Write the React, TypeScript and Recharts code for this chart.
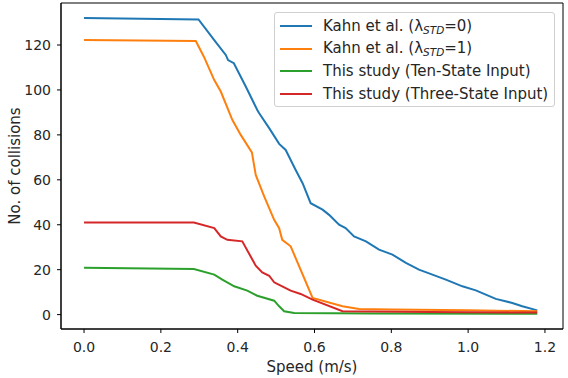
import { LineChart, Line, XAxis, YAxis, Legend, ReferenceArea, Label } from "recharts";

interface Pt {
  x: number;
  y: number;
}

const speedTicks = [0, 0.2, 0.4, 0.6, 0.8, 1.0, 1.2];
const collisionTicks = [0, 20, 40, 60, 80, 100, 120];

const kahnStd0: Pt[] = [
  { x: 0.0, y: 132 }, { x: 0.298, y: 131.4 }, { x: 0.339, y: 122.2 },
  { x: 0.369, y: 115.6 }, { x: 0.375, y: 113.3 }, { x: 0.39, y: 111.9 },
  { x: 0.421, y: 101.5 }, { x: 0.451, y: 91.1 }, { x: 0.456, y: 89.6 },
  { x: 0.482, y: 83 }, { x: 0.508, y: 76 }, { x: 0.525, y: 73.3 },
  { x: 0.551, y: 64.4 }, { x: 0.569, y: 58.5 }, { x: 0.59, y: 49.6 },
  { x: 0.621, y: 46.7 }, { x: 0.638, y: 44.4 }, { x: 0.664, y: 40 },
  { x: 0.681, y: 38.5 }, { x: 0.703, y: 34.8 }, { x: 0.734, y: 32.6 },
  { x: 0.768, y: 28.9 }, { x: 0.803, y: 26.7 }, { x: 0.838, y: 23 },
  { x: 0.872, y: 20 }, { x: 0.907, y: 17.8 }, { x: 0.942, y: 15.6 },
  { x: 0.985, y: 12.6 }, { x: 1.02, y: 10.8 }, { x: 1.046, y: 8.9 },
  { x: 1.072, y: 7.0 }, { x: 1.115, y: 5.2 }, { x: 1.141, y: 3.7 },
  { x: 1.18, y: 1.9 },
];

const kahnStd1: Pt[] = [
  { x: 0.0, y: 122.2 }, { x: 0.291, y: 121.8 }, { x: 0.312, y: 114.8 },
  { x: 0.339, y: 104.4 }, { x: 0.356, y: 99.3 }, { x: 0.386, y: 86.7 },
  { x: 0.408, y: 80 }, { x: 0.437, y: 72.2 }, { x: 0.447, y: 62.2 },
  { x: 0.469, y: 52.6 }, { x: 0.495, y: 42.2 }, { x: 0.508, y: 38.5 },
  { x: 0.516, y: 33.3 }, { x: 0.538, y: 30.4 }, { x: 0.595, y: 7.4 },
  { x: 0.673, y: 3.7 }, { x: 0.716, y: 2.5 }, { x: 0.8, y: 2.3 },
  { x: 1.0, y: 1.9 }, { x: 1.18, y: 1.5 },
];

const tenState: Pt[] = [
  { x: 0.0, y: 20.9 }, { x: 0.286, y: 20.3 }, { x: 0.339, y: 17.8 },
  { x: 0.36, y: 15.6 }, { x: 0.391, y: 12.6 }, { x: 0.425, y: 10.7 },
  { x: 0.451, y: 8.4 }, { x: 0.495, y: 6.2 }, { x: 0.508, y: 3.7 },
  { x: 0.521, y: 1.5 }, { x: 0.547, y: 0.7 }, { x: 0.75, y: 0.5 },
  { x: 1.18, y: 0.4 },
];

const threeState: Pt[] = [
  { x: 0.0, y: 41 }, { x: 0.286, y: 41 }, { x: 0.339, y: 38.5 },
  { x: 0.356, y: 34.8 }, { x: 0.373, y: 33.3 }, { x: 0.412, y: 32.6 },
  { x: 0.447, y: 21.8 }, { x: 0.464, y: 18.8 }, { x: 0.482, y: 17.3 },
  { x: 0.495, y: 14.4 }, { x: 0.512, y: 12.9 }, { x: 0.538, y: 10.7 },
  { x: 0.564, y: 9.2 }, { x: 0.595, y: 6.7 }, { x: 0.673, y: 1.5 },
  { x: 0.9, y: 1.2 }, { x: 1.18, y: 0.9 },
];

const FONT = "'DejaVu Sans', sans-serif";
const TEXT = "#262626";

const legendRows = [
  { color: "#1f77b4", main: "Kahn et al. (λ", sub: "STD", tail: "=0)" },
  { color: "#ff7f0e", main: "Kahn et al. (λ", sub: "STD", tail: "=1)" },
  { color: "#2ca02c", main: "This study (Ten-State Input)" },
  { color: "#d62728", main: "This study (Three-State Input)" },
];

function LegendBox() {
  return (
    <div
      style={{
        width: 281,
        height: 95,
        boxSizing: "border-box",
        border: "1px solid #d0d0d0",
        borderRadius: 3,
        background: "rgba(255,255,255,0.8)",
        fontFamily: FONT,
        fontSize: 15,
        lineHeight: "18px",
        color: TEXT,
        paddingTop: 2,
      }}
    >
      {legendRows.map((r) => (
        <div key={r.color} style={{ display: "flex", alignItems: "center", height: 22.6 }}>
          <span
            style={{
              display: "inline-block",
              width: 32,
              height: 2,
              background: r.color,
              marginLeft: 5,
              marginRight: 11,
            }}
          />
          <span style={{ whiteSpace: "nowrap" }}>
            {r.main}
            {r.sub && (
              <span style={{ fontStyle: "italic", fontSize: 10.5, position: "relative", top: 3 }}>
                {r.sub}
              </span>
            )}
            {r.tail}
          </span>
        </div>
      ))}
    </div>
  );
}

export default function App() {
  const tick = { fontFamily: FONT, fontSize: 14, fill: TEXT };
  const labelStyle = { fontFamily: FONT, fontSize: 15, fill: TEXT };
  return (
    <div style={{ position: "absolute", left: 0, top: 0, width: 568, height: 378, background: "#fff" }}>
      <LineChart width={568} height={378} margin={{ top: 3, right: 5, bottom: 0, left: 0 }}>
        <XAxis
          type="number"
          dataKey="x"
          domain={[-0.06, 1.247]}
          ticks={speedTicks}
          tickFormatter={(v: number) => v.toFixed(1)}
          allowDataOverflow
          height={49}
          tick={tick}
          tickSize={4}
          tickMargin={9}
          stroke="#000"
          axisLine={{ stroke: "#000" }}
        >
          <Label value="Speed (m/s)" position="center" dy={13} style={labelStyle} />
        </XAxis>
        <YAxis
          type="number"
          dataKey="y"
          domain={[-6.4, 138.7]}
          ticks={collisionTicks}
          allowDataOverflow
          width={61}
          tick={tick}
          tickSize={4}
          tickMargin={6}
          stroke="#000"
          axisLine={{ stroke: "#000" }}
        >
          <Label
            value="No. of collisions"
            angle={-90}
            position="center"
            dx={-16}
            style={{ ...labelStyle, textAnchor: "middle" }}
          />
        </YAxis>
        <ReferenceArea
          x1={-0.06}
          x2={1.247}
          y1={-6.4}
          y2={138.7}
          fill="none"
          stroke="#000"
          strokeWidth={1}
          ifOverflow="visible"
        />
        <Line data={kahnStd0} dataKey="y" type="linear" stroke="#1f77b4" strokeWidth={2} dot={false} isAnimationActive={false} />
        <Line data={kahnStd1} dataKey="y" type="linear" stroke="#ff7f0e" strokeWidth={2} dot={false} isAnimationActive={false} />
        <Line data={tenState} dataKey="y" type="linear" stroke="#2ca02c" strokeWidth={2} dot={false} isAnimationActive={false} />
        <Line data={threeState} dataKey="y" type="linear" stroke="#d62728" strokeWidth={2} dot={false} isAnimationActive={false} />
        <Legend
          layout="vertical"
          align="center"
          verticalAlign="middle"
          wrapperStyle={{ left: 274, top: 12, width: 281 }}
          content={() => <LegendBox />}
        />
      </LineChart>
    </div>
  );
}
